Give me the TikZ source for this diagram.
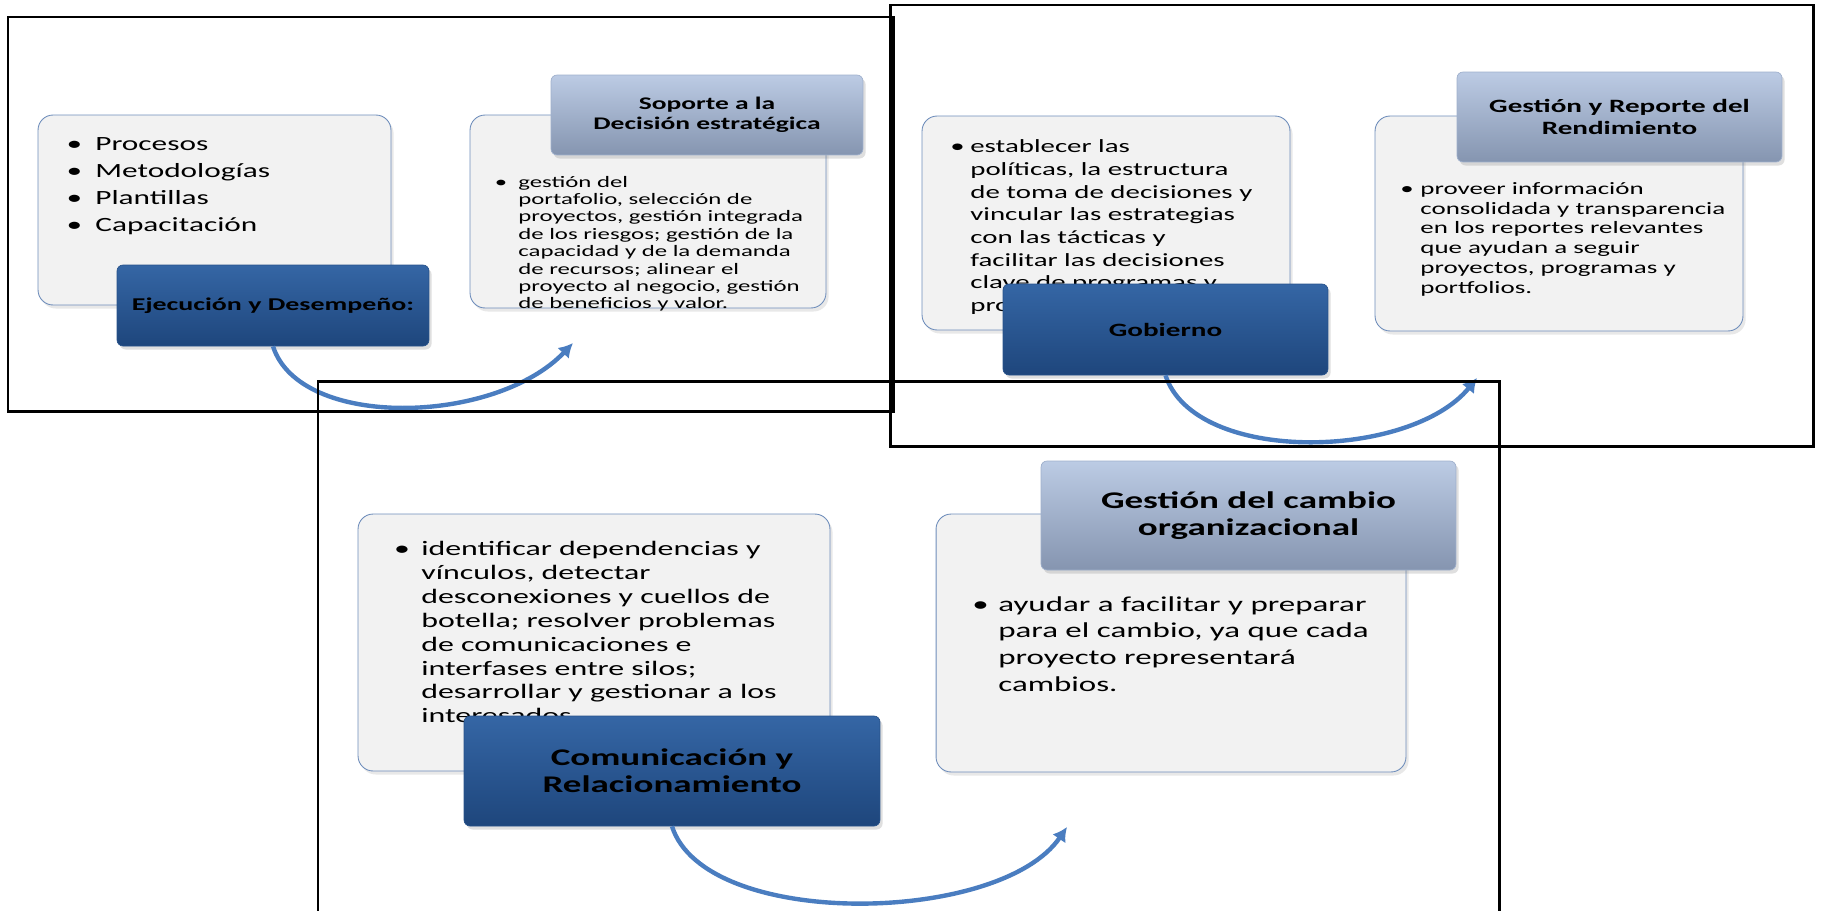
\documentclass[tikz,border=0pt]{standalone}
\usepackage{fontspec}
\setmainfont{Carlito}[FakeStretch=1.55]
\usetikzlibrary{arrows.meta,shadows}

\definecolor{panelfill}{HTML}{F2F2F2}
\definecolor{paneledge}{HTML}{6E8DBB}
\definecolor{navytop}{HTML}{3566A5}
\definecolor{navybottom}{HTML}{1E467C}
\definecolor{navyedge}{HTML}{27528A}
\definecolor{steeltop}{HTML}{BCCBE4}
\definecolor{steelbottom}{HTML}{8595B0}
\definecolor{steeledge}{HTML}{9FB0CC}
\definecolor{flowblue}{HTML}{4A7DC0}

% bullet hung left of the text column
\newcommand{\blt}[1][0.3em]{\llap{\textbullet\hspace{#1}}}

\begin{document}
\begin{tikzpicture}[
    x=0.02cm, y=-0.02cm,
    >={Latex[length=8pt,width=9pt]},
    panelbox/.style={draw=paneledge, line width=0.5pt, fill=panelfill, rounded corners=0.3cm,
        drop shadow={shadow xshift=1.5pt, shadow yshift=-2pt, opacity=0.18}},
    titlebox/.style={draw=navyedge, top color=navytop, bottom color=navybottom, rounded corners=0.12cm,
        align=center, text=black, drop shadow={shadow xshift=1.5pt, shadow yshift=-2pt, opacity=0.25}},
    headbox/.style={draw=steeledge, top color=steeltop, bottom color=steelbottom, rounded corners=0.12cm,
        align=center, text=black, drop shadow={shadow xshift=1.5pt, shadow yshift=-2pt, opacity=0.25}},
    bodytext/.style={anchor=north west, inner sep=0pt, align=left, text=black},
    flowarrow/.style={->, draw=flowblue, line width=2.5pt},
    framebox/.style={draw=black, line width=1.7pt}
    ]

    \useasboundingbox (0,0) rectangle (1821,910);
    \clip (0,0) rectangle (1821,910);

    % Ejecucion y Desempeno
    \node [panelbox, minimum width=7.06cm, minimum height=3.8cm] (herramientas) at (214.5,210) {};
    \node [bodytext, font=\fontsize{11.5}{15.3}\selectfont] (herramientasTxt) at (95,131.6)
        {\strut\blt[0.65em]Procesos\\\blt[0.65em]Metodologías\\\blt[0.65em]Plantillas\\\blt[0.65em]Capacitación};
    \node [panelbox, minimum width=7.12cm, minimum height=3.86cm] (soporte) at (648,211.5) {};
    \node [bodytext, font=\fontsize{9.1}{9.9}\selectfont] (soporteTxt) at (518,174.5)
        {\strut\blt[0.7em]gestión del\\portafolio, selección de\\proyectos, gestión integrada\\de los riesgos; gestión de la\\capacidad y de la demanda\\de recursos; alinear el\\proyecto al negocio, gestión\\de beneficios y valor.};
    \node [headbox, minimum width=6.24cm, minimum height=1.6cm, font=\bfseries\fontsize{10.1}{11.1}\selectfont] (soporteHead) at (707,115)
        {Soporte a la\\Decisión estratégica};
    \node [titlebox, minimum width=6.24cm, minimum height=1.62cm, font=\bfseries\fontsize{10.25}{12}\selectfont] (ejecucion) at (273,305.5)
        {Ejecución y Desempeño:};
    \coordinate (soporteIn) at (573,343);
    \draw [flowarrow] (ejecucion.south) .. controls (300,430) and (495,425) .. (soporteIn);

    % Gobierno
    \node [panelbox, minimum width=7.36cm, minimum height=4.28cm] (politicas) at (1106,223) {};
    \node [bodytext, font=\fontsize{10.6}{12.9}\selectfont] (politicasTxt) at (970,136.7)
        {\strut\blt[0.3em]establecer las\\políticas, la estructura\\de toma de decisiones y\\vincular las estrategias\\con las tácticas y\\facilitar las decisiones\\clave de programas y\\proyectos.};
    \node [panelbox, minimum width=7.36cm, minimum height=4.3cm] (rendimiento) at (1559,223.5) {};
    \node [bodytext, font=\fontsize{9.9}{11.2}\selectfont] (rendimientoTxt) at (1420,180.5)
        {\strut\blt[0.38em]proveer información\\consolidada y transparencia\\en los reportes relevantes\\que ayudan a seguir\\proyectos, programas y\\portfolios.};
    \node [headbox, minimum width=6.5cm, minimum height=1.8cm, font=\bfseries\fontsize{10.7}{12.5}\selectfont] (rendimientoHead) at (1619.5,117)
        {Gestión y Reporte del\\Rendimiento};
    \node [titlebox, minimum width=6.5cm, minimum height=1.82cm, font=\bfseries\fontsize{10.7}{12.5}\selectfont] (gobierno) at (1165.5,329.5)
        {Gobierno};
    \coordinate (rendimientoIn) at (1477,378);
    \draw [flowarrow] (gobierno.south) .. controls (1195,465) and (1410,460) .. (rendimientoIn);

    % Comunicacion y Relacionamiento
    \node [panelbox, minimum width=9.44cm, minimum height=5.14cm] (dependencias) at (594,642.5) {};
    \node [bodytext, font=\fontsize{11.7}{13.6}\selectfont] (dependenciasTxt) at (421,538.5)
        {\strut\blt[0.55em]identificar dependencias y\\vínculos, detectar\\desconexiones y cuellos de\\botella; resolver problemas\\de comunicaciones e\\interfases entre silos;\\desarrollar y gestionar a los\\interesados.};
    \node [panelbox, minimum width=9.4cm, minimum height=5.16cm] (cambio) at (1171,643) {};
    \node [bodytext, font=\fontsize{12.1}{15.2}\selectfont] (cambioTxt) at (998,592)
        {\strut\blt[0.45em]ayudar a facilitar y preparar\\para el cambio, ya que cada\\proyecto representará\\cambios.};
    \node [headbox, minimum width=8.3cm, minimum height=2.18cm, font=\bfseries\fontsize{13.6}{15.4}\selectfont] (cambioHead) at (1248.5,515.5)
        {Gestión del cambio\\organizacional};
    \node [titlebox, minimum width=8.32cm, minimum height=2.2cm, font=\bfseries\fontsize{13.6}{15.4}\selectfont] (comunicacion) at (672,771)
        {Comunicación y\\Relacionamiento};
    \coordinate (cambioIn) at (1067,827);
    \draw [flowarrow] (comunicacion.south) .. controls (705,930) and (1000,925) .. (cambioIn);

    % outer frames
    \draw [framebox] (8,17) rectangle (893,411);
    \draw [framebox] (890,5) rectangle (1813,446);
    \draw [framebox] (318,381) rectangle (1499,940);
\end{tikzpicture}
\end{document}
